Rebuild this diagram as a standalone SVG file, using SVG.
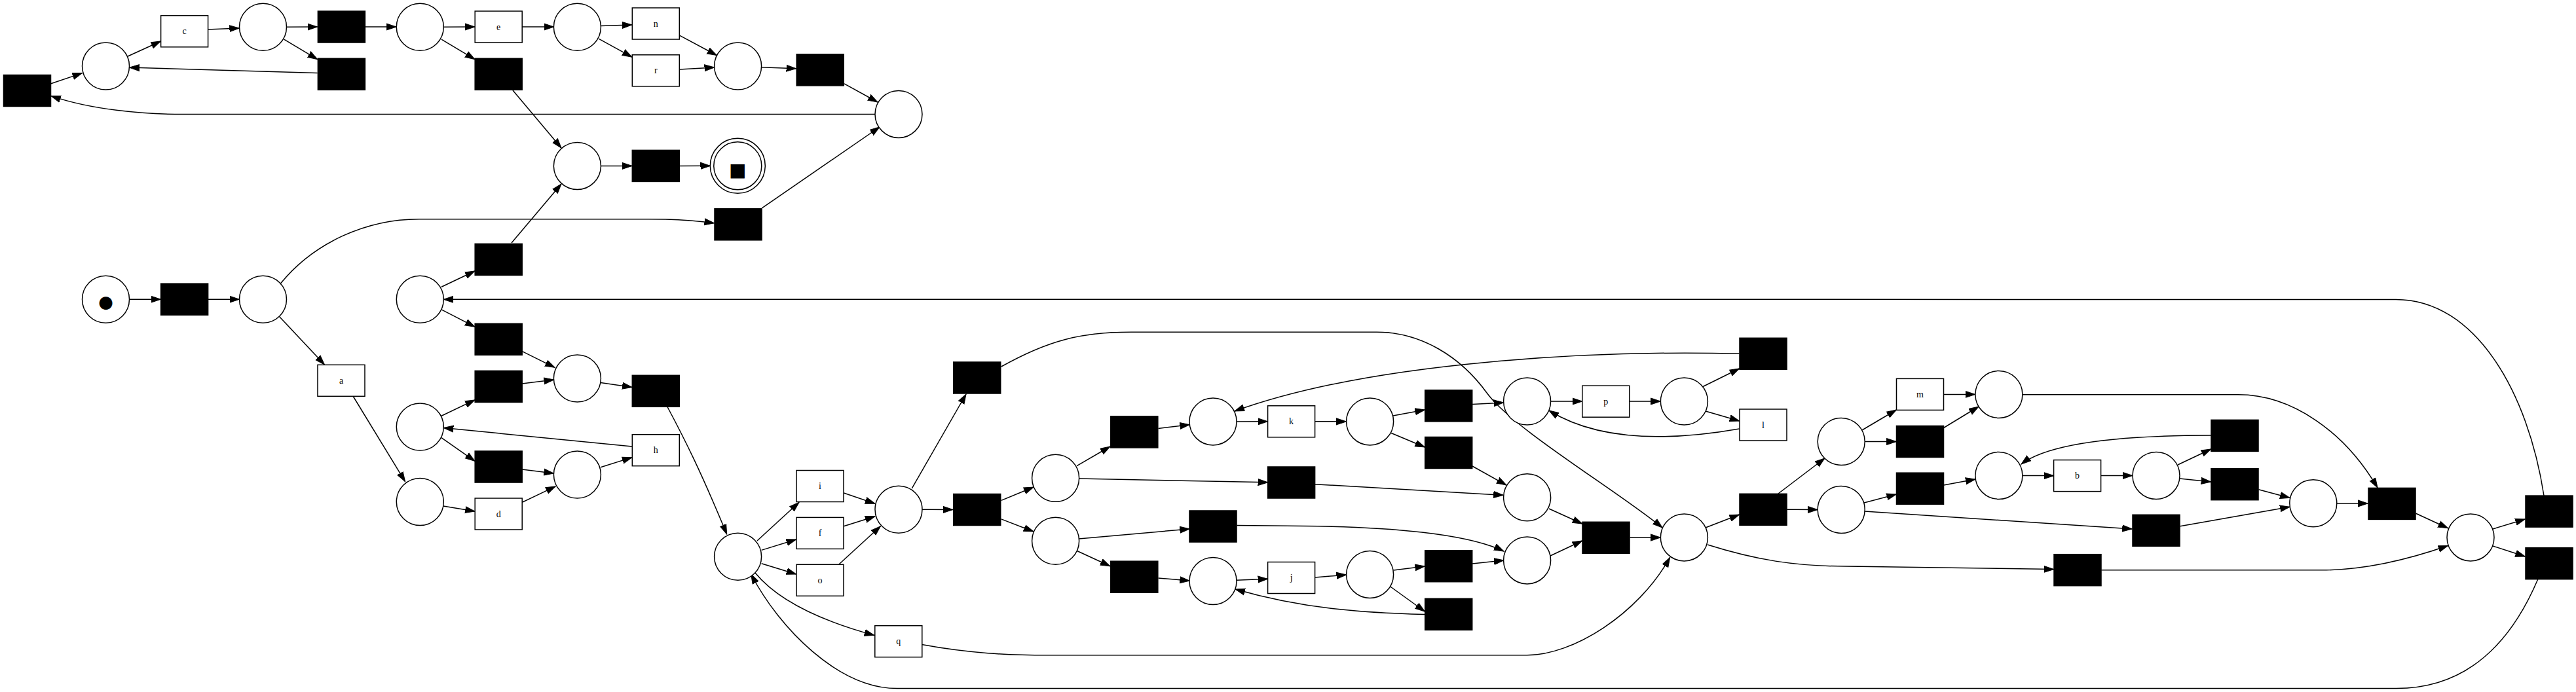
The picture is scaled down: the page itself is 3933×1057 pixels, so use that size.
<svg xmlns="http://www.w3.org/2000/svg" width="3933" height="1057" viewBox="0 0 3933 1057">
<style>
.p{fill:#fff;stroke:#000;stroke-width:1.5}
.t{fill:#000;stroke:#000;stroke-width:1.5}
.l{fill:#fff;stroke:#000;stroke-width:1.5}
.tx{font-family:"Liberation Serif",serif;font-size:14px;text-anchor:middle;dominant-baseline:central;fill:#000}
.sym{font-family:"DejaVu Sans",sans-serif;text-anchor:middle;fill:#000}
.e{fill:none;stroke:#000;stroke-width:1.5;marker-end:url(#a)}
</style>
<defs>
<marker id="a" markerUnits="userSpaceOnUse" markerWidth="16" markerHeight="12" refX="15" refY="5" orient="auto" viewBox="0 0 16 10">
<path d="M0,0 L15,5 L0,10 Z" fill="#000" stroke="#000" stroke-width="1"/>
</marker>
</defs>
<rect width="3933" height="1057" fill="#fff"/>
<g id="edges">
<path class="e" d="M197.5,457.2 L245.5,457.2"/>
<path class="e" d="M317.6,457.2 L365.5,457.2"/>
<path class="e" d="M426,483 L495.5,557"/>
<path class="e" d="M539,605 L618.6,735.6"/>
<path class="e" d="M677,773 L725,781"/>
<path class="e" d="M797.2,767.3 L848.2,742.9"/>
<path class="e" d="M917,713.7 L965,698.6"/>
<path class="e" d="M965,682 L677.3,653.5"/>
<path class="e" d="M674,635.3 L725,610.9"/>
<path class="e" d="M674,668.6 L725,704.3"/>
<path class="e" d="M797.2,717 L845.5,723"/>
<path class="e" d="M797.2,586 L845.6,580"/>
<path class="e" d="M674,472.8 L725,499.2"/>
<path class="e" d="M674,438.3 L725,414"/>
<path class="e" d="M797.2,536.6 L847,561.3"/>
<path class="e" d="M917.1,584.5 L965,591.4"/>
<path class="e" d="M781,371 L857,281"/>
<path class="e" d="M783,138 L857,226"/>
<path class="e" d="M674,60.2 L725,90.6"/>
<path class="e" d="M677.3,41.2 L725,41"/>
<path class="e" d="M797.2,41 L845.7,41"/>
<path class="e" d="M917.1,39.6 L965,37.9"/>
<path class="e" d="M914,59.2 L965,87.2"/>
<path class="e" d="M1037.6,54.1 L1094.4,84.5"/>
<path class="e" d="M1037.6,106 L1090.6,103"/>
<path class="e" d="M1162.6,102.7 L1215.6,104.7"/>
<path class="e" d="M1289,127.8 L1340,156"/>
<path class="e" d="M1163.3,317.8 L1343,194"/>
<path class="e" d="M1336,174.6 L280,174.6 C220,174.6 140,168 77.8,146.4"/>
<path class="e" d="M77.8,127.8 L125.6,111.6"/>
<path class="e" d="M194.5,86.2 L245.5,63"/>
<path class="e" d="M317.6,45 L365.4,43"/>
<path class="e" d="M437.5,41.2 L484.7,41"/>
<path class="e" d="M558,41 L605.2,41"/>
<path class="e" d="M433.7,60.2 L484.7,90.6"/>
<path class="e" d="M484.7,111.6 L197.7,103.1"/>
<path class="e" d="M917.4,253.4 L965,253.4"/>
<path class="e" d="M1037.6,253.4 L1084.5,253.3"/>
<path class="e" d="M428.6,432.7 C480,370 560,334.7 640,334.7 L990,334.7 C1040,334.7 1070,338 1090.6,340.8"/>
<path class="e" d="M3884,757 C3860,600 3780,457.4 3658,457.4 L677.3,457.3"/>
<path class="e" d="M3874.7,885 C3830,990 3760,1051.6 3658.5,1051.6 L1370,1051.6 C1280,1051.6 1190,960 1146.7,877"/>
<path class="e" d="M1019,621.5 C1045,670 1070,720 1109.7,816"/>
<path class="e" d="M1156,826 L1220,767.3"/>
<path class="e" d="M1162.6,840.4 L1215.6,824"/>
<path class="e" d="M1162.6,860.7 L1215.6,877"/>
<path class="e" d="M1153,875 C1190,920 1260,950 1334.8,970.4"/>
<path class="e" d="M1288.3,753 L1336,769.3"/>
<path class="e" d="M1288.3,803.8 L1336,788.8"/>
<path class="e" d="M1280.6,862.3 L1344.4,803.8"/>
<path class="e" d="M1408,778.3 L1455,778.4"/>
<path class="e" d="M1392.2,746.2 L1475,602"/>
<path class="e" d="M1528.7,764.4 L1578,744"/>
<path class="e" d="M1528.7,792.9 L1578,812"/>
<path class="e" d="M1644,711.6 L1695,682"/>
<path class="e" d="M1647.3,731 L1935.6,736.8"/>
<path class="e" d="M1768.5,654.4 L1816.3,648.7"/>
<path class="e" d="M1888,643.9 L1935.6,643.8"/>
<path class="e" d="M2007.7,643.8 L2055.5,643.9"/>
<path class="e" d="M1647.3,823 L1816.3,807.9"/>
<path class="e" d="M1644,841.2 L1695,864.8"/>
<path class="e" d="M1768.5,883 L1816.3,887"/>
<path class="e" d="M1887.8,886.3 L1935.6,884.3"/>
<path class="e" d="M1888.4,802.6 L1990,803.5 C2120,804.5 2240,815 2296,842"/>
<path class="e" d="M2007.7,739.7 L2295.3,756.3"/>
<path class="e" d="M1528.7,560 C1600,520 1650,507.3 1727,507.3 L2102,507.3 C2170,507.3 2230,545 2270,600 C2310,655 2470,750 2538,806"/>
<path class="e" d="M1407.5,984.6 C1480,998 1540,1000.8 1600,1000.8 L2331.6,1000.8 C2400,1000.8 2500,940 2549.7,851.4"/>
<path class="e" d="M2007.7,882 L2055.5,878"/>
<path class="e" d="M2127.6,871 L2175.4,865"/>
<path class="e" d="M2120,894 L2175.4,934"/>
<path class="e" d="M2175.4,938.6 C2080,936 1990,930 1886,900"/>
<path class="e" d="M2248,861 L2296,856"/>
<path class="e" d="M2127,635 L2175.4,626"/>
<path class="e" d="M2123,661 L2175.4,683"/>
<path class="e" d="M2248,617.5 L2295.6,615"/>
<path class="e" d="M2248,712 L2300,741"/>
<path class="e" d="M2367.6,613 L2415.8,613"/>
<path class="e" d="M2488,613 L2535.4,613"/>
<path class="e" d="M2599,591 L2655.6,563"/>
<path class="e" d="M2604,628 L2655.6,643"/>
<path class="e" d="M2655.6,540.3 C2450,535 2100,550 1885,628"/>
<path class="e" d="M2655.6,655 C2570,670 2450,680 2365,627"/>
<path class="e" d="M2365,777 L2415.8,800"/>
<path class="e" d="M2367,849 L2415.8,826"/>
<path class="e" d="M2488.5,821.3 L2535.4,821"/>
<path class="e" d="M2604,806 L2655.6,786"/>
<path class="e" d="M2715,754 L2786,700"/>
<path class="e" d="M2728.3,778.3 L2775.2,778.5"/>
<path class="e" d="M2843,657 L2895.4,626"/>
<path class="e" d="M2847.2,674.5 L2895.4,674.5"/>
<path class="e" d="M2846,768 L2895.4,755"/>
<path class="e" d="M2847,781 L3255.3,808"/>
<path class="e" d="M2607,832 C2680,855 2740,865 2820,865 L3135.6,869.6"/>
<path class="e" d="M2967.5,602.4 L3015.8,602.4"/>
<path class="e" d="M2967.6,653.5 L3021,621"/>
<path class="e" d="M2967.6,740.9 L3016,732"/>
<path class="e" d="M3087.9,726.4 L3135.6,726.6"/>
<path class="e" d="M3207.7,726.6 L3256,726.4"/>
<path class="e" d="M3325,710 L3375.7,686"/>
<path class="e" d="M3328,731 L3375.7,736"/>
<path class="e" d="M3375.7,665 C3250,665 3130,675 3086,709"/>
<path class="e" d="M3328.7,803.8 L3496,774.2"/>
<path class="e" d="M3448.4,747.8 L3496,760.4"/>
<path class="e" d="M3567.6,768.9 L3615.2,769"/>
<path class="e" d="M3208.3,870.8 L3545.6,870.8 C3620,870.8 3690,850 3737.4,833.5"/>
<path class="e" d="M3688.6,784.3 L3737.4,806.7"/>
<path class="e" d="M3087.9,602.8 L3417,602.8 C3500,602.8 3580,660 3630,745"/>
<path class="e" d="M3806,808 L3855.3,793"/>
<path class="e" d="M3806,834 L3855.3,850"/>
</g>
<g id="P0"><circle class="p" cx="161.5" cy="457.2" r="36"/><text class="sym" x="161.5" y="470" font-size="26">●</text></g>
<g id="P1"><circle class="p" cx="161.5" cy="101" r="36"/></g>
<g id="P2"><circle class="p" cx="401.5" cy="41.2" r="36"/></g>
<g id="P3"><circle class="p" cx="641.3" cy="41.2" r="36"/></g>
<g id="P4"><circle class="p" cx="881.4" cy="41.2" r="36"/></g>
<g id="P5"><circle class="p" cx="881.4" cy="253.4" r="36"/></g>
<g id="P6"><circle class="p" cx="401.5" cy="457.2" r="36"/></g>
<g id="P7"><circle class="p" cx="641.3" cy="457.2" r="36"/></g>
<g id="P8"><circle class="p" cx="1126.6" cy="101" r="36"/></g>
<g id="P9"><circle class="p" cx="1372" cy="174.4" r="36"/></g>
<g id="Pend"><circle class="p" cx="1126.3" cy="253.3" r="42"/><circle class="p" cx="1126.3" cy="253.3" r="36.5"/><text class="sym" x="1126.3" y="269" font-size="28">■</text></g>
<g id="P10"><circle class="p" cx="881.4" cy="578" r="36"/></g>
<g id="P11"><circle class="p" cx="641.3" cy="652" r="36"/></g>
<g id="P12"><circle class="p" cx="881.4" cy="725" r="36"/></g>
<g id="P13"><circle class="p" cx="641.3" cy="766.5" r="36"/></g>
<g id="P14"><circle class="p" cx="1126.6" cy="850.3" r="36"/></g>
<g id="P15"><circle class="p" cx="1372" cy="778.2" r="36"/></g>
<g id="P16"><circle class="p" cx="1611.6" cy="730.3" r="36"/></g>
<g id="P17"><circle class="p" cx="1611.6" cy="826.3" r="36"/></g>
<g id="P18"><circle class="p" cx="1852" cy="643.9" r="36"/></g>
<g id="P19"><circle class="p" cx="1852" cy="887.5" r="36"/></g>
<g id="P20"><circle class="p" cx="2091.6" cy="643.9" r="36"/></g>
<g id="P21"><circle class="p" cx="2331.6" cy="613" r="36"/></g>
<g id="P22"><circle class="p" cx="2571.4" cy="613" r="36"/></g>
<g id="P23"><circle class="p" cx="2331.6" cy="759.8" r="36"/></g>
<g id="P24"><circle class="p" cx="2331.6" cy="855.9" r="36"/></g>
<g id="P25"><circle class="p" cx="2571.4" cy="820.9" r="36"/></g>
<g id="P26"><circle class="p" cx="2091.6" cy="877.4" r="36"/></g>
<g id="P27"><circle class="p" cx="2811.2" cy="674.5" r="36"/></g>
<g id="P28"><circle class="p" cx="2811.2" cy="778.5" r="36"/></g>
<g id="P29"><circle class="p" cx="3051.9" cy="602.4" r="36"/></g>
<g id="P30"><circle class="p" cx="3051.9" cy="726.4" r="36"/></g>
<g id="P31"><circle class="p" cx="3292" cy="726.4" r="36"/></g>
<g id="P32"><circle class="p" cx="3531.8" cy="768.7" r="36"/></g>
<g id="P33"><circle class="p" cx="3772" cy="820.9" r="36"/></g>
<g id="Tleft"><rect class="t" x="5.5" y="114.5" width="72" height="48"/></g>
<g id="Tc"><rect class="l" x="245.6" y="23.8" width="72" height="48"/><text class="tx" x="281.6" y="47.8">c</text></g>
<g id="T1"><rect class="t" x="245.6" y="433.2" width="72" height="48"/></g>
<g id="Ta"><rect class="l" x="485" y="557.3" width="72" height="48"/><text class="tx" x="521" y="581.3">a</text></g>
<g id="T2"><rect class="t" x="485.4" y="17" width="72" height="48"/></g>
<g id="T3"><rect class="t" x="485.4" y="89.3" width="72" height="48"/></g>
<g id="Te"><rect class="l" x="725.2" y="17" width="72" height="48"/><text class="tx" x="761.2" y="41">e</text></g>
<g id="T4"><rect class="t" x="725.2" y="89.3" width="72" height="48"/></g>
<g id="T5"><rect class="t" x="725.2" y="372.4" width="72" height="48"/></g>
<g id="T6"><rect class="t" x="725.2" y="494.3" width="72" height="48"/></g>
<g id="T7"><rect class="t" x="725.2" y="566.4" width="72" height="48"/></g>
<g id="T8"><rect class="t" x="725.2" y="689" width="72" height="48"/></g>
<g id="Td"><rect class="l" x="725.2" y="761" width="72" height="48"/><text class="tx" x="761.2" y="785">d</text></g>
<g id="Tn"><rect class="l" x="965.3" y="12" width="72" height="48"/><text class="tx" x="1001.3" y="36">n</text></g>
<g id="Tr"><rect class="l" x="965.3" y="83.8" width="72" height="48"/><text class="tx" x="1001.3" y="107.8">r</text></g>
<g id="T9"><rect class="t" x="965.3" y="229.4" width="72" height="48"/></g>
<g id="T10"><rect class="t" x="965.3" y="573.3" width="72" height="48"/></g>
<g id="Th"><rect class="l" x="965.3" y="663.7" width="72" height="48"/><text class="tx" x="1001.3" y="687.7">h</text></g>
<g id="T11"><rect class="t" x="1091" y="318.8" width="72" height="48"/></g>
<g id="T12"><rect class="t" x="1216.2" y="82.8" width="72" height="48"/></g>
<g id="Ti"><rect class="l" x="1216" y="718.5" width="72" height="48"/><text class="tx" x="1252" y="742.5">i</text></g>
<g id="Tf"><rect class="l" x="1216" y="790.4" width="72" height="48"/><text class="tx" x="1252" y="814.4">f</text></g>
<g id="To"><rect class="l" x="1216" y="862.3" width="72" height="48"/><text class="tx" x="1252" y="886.3">o</text></g>
<g id="Tq"><rect class="l" x="1335.8" y="955.7" width="72" height="48"/><text class="tx" x="1371.8" y="979.7">q</text></g>
<g id="T13"><rect class="t" x="1455.7" y="553" width="72" height="48"/></g>
<g id="T14"><rect class="t" x="1455.7" y="754.5" width="72" height="48"/></g>
<g id="T15"><rect class="t" x="1695.8" y="635.9" width="72" height="48"/></g>
<g id="T16"><rect class="t" x="1695.8" y="857.2" width="72" height="48"/></g>
<g id="T17"><rect class="t" x="1816" y="780" width="72" height="48"/></g>
<g id="Tk"><rect class="l" x="1935.6" y="619.8" width="72" height="48"/><text class="tx" x="1971.6" y="643.8">k</text></g>
<g id="T18"><rect class="t" x="1935.6" y="713" width="72" height="48"/></g>
<g id="Tj"><rect class="l" x="1935.6" y="858.5" width="72" height="48"/><text class="tx" x="1971.6" y="882.5">j</text></g>
<g id="T19"><rect class="t" x="2175.7" y="595.9" width="72" height="48"/></g>
<g id="T20"><rect class="t" x="2175.7" y="667.5" width="72" height="48"/></g>
<g id="T21"><rect class="t" x="2175.7" y="840.7" width="72" height="48"/></g>
<g id="T22"><rect class="t" x="2175.7" y="914.3" width="72" height="48"/></g>
<g id="Tp"><rect class="l" x="2415.8" y="589.2" width="72" height="48"/><text class="tx" x="2451.8" y="613.2">p</text></g>
<g id="T23"><rect class="t" x="2416" y="797.3" width="72" height="48"/></g>
<g id="T24"><rect class="t" x="2656" y="516.3" width="72" height="48"/></g>
<g id="Tl"><rect class="l" x="2656" y="625" width="72" height="48"/><text class="tx" x="2692" y="649">l</text></g>
<g id="T25"><rect class="t" x="2656" y="754.3" width="72" height="48"/></g>
<g id="Tm"><rect class="l" x="2895.5" y="578.4" width="72" height="48"/><text class="tx" x="2931.5" y="602.4">m</text></g>
<g id="T26"><rect class="t" x="2895.5" y="650.5" width="72" height="48"/></g>
<g id="T27"><rect class="t" x="2895.5" y="722.2" width="72" height="48"/></g>
<g id="Tb"><rect class="l" x="3135.6" y="702.6" width="72" height="48"/><text class="tx" x="3171.6" y="726.6">b</text></g>
<g id="T28"><rect class="t" x="3136" y="846.7" width="72" height="48"/></g>
<g id="T29"><rect class="t" x="3256" y="786.3" width="72" height="48"/></g>
<g id="T30"><rect class="t" x="3376" y="641.4" width="72" height="48"/></g>
<g id="T31"><rect class="t" x="3376" y="715.7" width="72" height="48"/></g>
<g id="T32"><rect class="t" x="3616" y="745.4" width="72" height="48"/></g>
<g id="T33"><rect class="t" x="3856" y="757.1" width="72" height="48"/></g>
<g id="T34"><rect class="t" x="3856" y="836.7" width="72" height="48"/></g>
</svg>
